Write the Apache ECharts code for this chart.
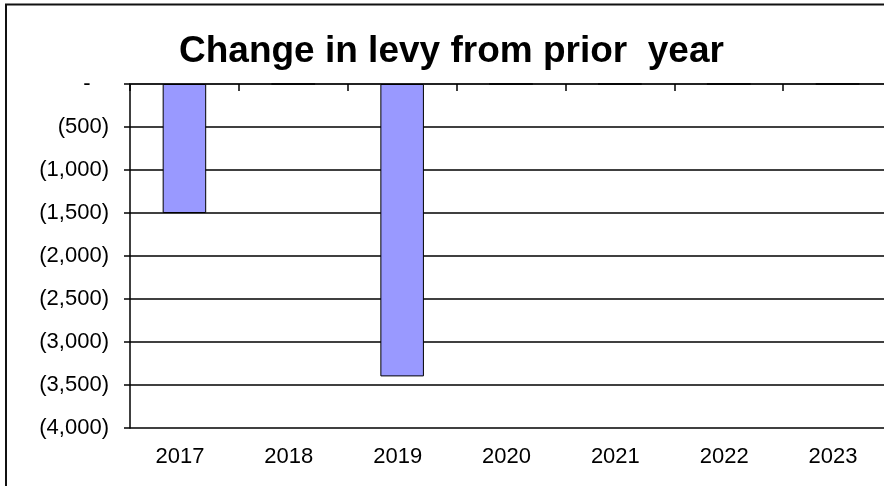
<!DOCTYPE html>
<html>
<head>
<meta charset="utf-8">
<script src="https://cdn.jsdelivr.net/npm/echarts@6/dist/echarts.min.js"></script>
<style>
html,body{margin:0;padding:0;background:#fff;}
#chart{width:884px;height:486px;}
</style>
</head>
<body>
<div id="chart"></div>
<script>
var categories = ['2017', '2018', '2019', '2020', '2021', '2022', '2023'];
var levyChange = [-1500, 0, -3400, 0, 0, 0, 0];
var yTickValues = [0, -500, -1000, -1500, -2000, -2500, -3000, -3500, -4000];

var FONT = "'Liberation Sans', Arial, sans-serif";

function fmtAccounting(v) {
  if (v === 0) return '-   ';
  var s = Math.abs(v).toString().replace(/\B(?=(\d{3})+(?!\d))/g, ',');
  return v < 0 ? '(' + s + ')' : s;
}

var chart = echarts.init(document.getElementById('chart'), null, {renderer: 'canvas'});
chart.setOption({
  animation: false,
  backgroundColor: '#fff',
  title: {
    text: 'Change in levy from prior  year',
    left: 179,
    top: 33,
    padding: 0,
    textStyle: {fontFamily: FONT, fontSize: 37, fontWeight: 'bold', color: '#000'}
  },
  graphic: [{
    type: 'rect',
    shape: {x: 6, y: 4.5, width: 920, height: 520},
    style: {fill: 'none', stroke: '#111', lineWidth: 2},
    silent: true
  }],
  grid: {left: 130, top: 84, width: 762, height: 344, outerBoundsMode: 'none', containLabel: false},
  xAxis: [{
    type: 'category',
    data: categories,
    position: 'bottom',
    boundaryGap: true,
    axisLine: {show: true, lineStyle: {color: '#8c8c8c', width: 2}},
    axisTick: {show: false},
    axisLabel: {fontFamily: FONT, fontSize: 22, color: '#000', margin: 18, padding: [0, 9, 0, 0]},
    splitLine: {show: false}
  }, {
    type: 'category',
    data: categories,
    position: 'top',
    boundaryGap: true,
    axisLine: {show: true, onZero: false, lineStyle: {color: '#000', width: 1.5}},
    axisTick: {show: true, inside: true, length: 7, lineStyle: {color: '#000', width: 1.5}},
    axisLabel: {show: false},
    splitLine: {show: false}
  }],
  yAxis: {
    type: 'value',
    min: -4000,
    max: 0,
    interval: 500,
    axisLine: {show: true, lineStyle: {color: '#000', width: 1.5}},
    axisTick: {show: true, length: 6, lineStyle: {color: '#000', width: 1.5}},
    axisLabel: {
      fontFamily: FONT, fontSize: 22, color: '#000', margin: 21,
      formatter: function (v) { return fmtAccounting(v); }
    },
    splitLine: {show: true, lineStyle: {color: '#000', width: 1.5}}
  },
  series: [{
    type: 'bar',
    xAxisIndex: 0,
    data: levyChange,
    barWidth: '40%',
    itemStyle: {color: '#9999FF', borderColor: '#000', borderWidth: 1}
  }]
});
</script>
</body>
</html>
